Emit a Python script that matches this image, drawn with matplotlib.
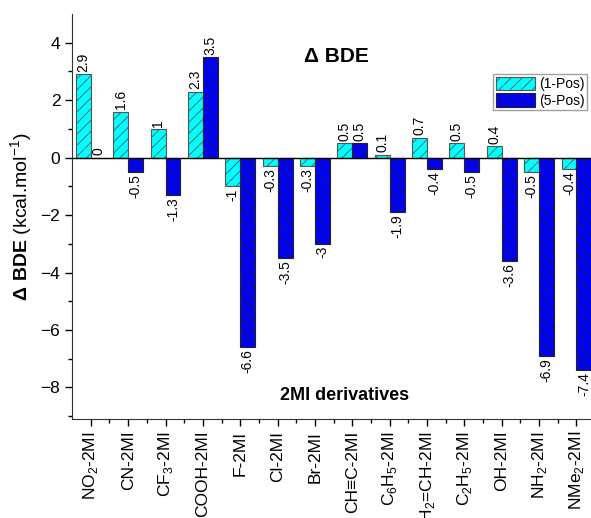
import matplotlib.pyplot as plt
import numpy as np

plt.rcParams['font.family'] = ['Liberation Sans', 'DejaVu Sans']
plt.rcParams['mathtext.fontset'] = 'custom'
plt.rcParams['mathtext.rm'] = 'Liberation Sans'
plt.rcParams['mathtext.bf'] = 'Liberation Sans:bold'
plt.rcParams['hatch.linewidth'] = 0.6

# データ
derivatives = ['NO$_2$-2MI', 'CN-2MI', 'CF$_3$-2MI', 'COOH-2MI', 'F-2MI', 'Cl-2MI',
               'Br-2MI', 'CH≡C-2MI', 'C$_6$H$_5$-2MI', 'CH$_2$=CH-2MI',
               'C$_2$H$_5$-2MI', 'OH-2MI', 'NH$_2$-2MI', 'NMe$_2$-2MI']
pos1 = [2.9, 1.6, 1, 2.3, -1, -0.3, -0.3, 0.5, 0.1, 0.7, 0.5, 0.4, -0.5, -0.4]
pos5 = [0, -0.5, -1.3, 3.5, -6.6, -3.5, -3, 0.5, -1.9, -0.4, -0.5, -3.6, -6.9, -7.4]

fig = plt.figure(figsize=(5.91, 5.18), dpi=100)
ax = fig.add_axes([0.122, 0.191, 0.885, 0.782])

x = np.arange(len(derivatives))
w = 0.4
b1 = ax.bar(x - w / 2, pos1, w, color='#00ffff', edgecolor='#555555',
            hatch='///', linewidth=0.8, label='(1-Pos)')
b5 = ax.bar(x + w / 2, pos5, w, color='#0000ff', edgecolor='#222222',
            hatch='\\\\\\', linewidth=0.8, label='(5-Pos)')

# 棒の値ラベル
for xs, vals in [(x - w / 2, pos1), (x + w / 2, pos5)]:
    for xi, v in zip(xs, vals):
        if v >= 0:
            ax.text(xi, v + 0.08, f'{v:g}', rotation=90, ha='center', va='bottom', fontsize=10)
        else:
            ax.text(xi, v - 0.08, f'{v:g}', rotation=90, ha='center', va='top', fontsize=10)

ax.axhline(0, color='black', linewidth=1)

ax.set_xlim(-0.5, 13.5)
ax.set_ylim(-9.1, 5)
ax.set_xticks(x)
ax.set_xticks(x + 0.5, minor=True)
ax.set_xticklabels(derivatives, rotation=90, fontsize=12.5)
ax.set_yticks([-8, -6, -4, -2, 0, 2, 4])
ax.set_yticks([-9, -7, -5, -3, -1, 1, 3], minor=True)
ax.tick_params(axis='y', labelsize=12.5)
ax.tick_params(which='major', length=5, width=1)
ax.tick_params(which='minor', length=3, width=1)

for s in ['top', 'right']:
    ax.spines[s].set_visible(False)
ax.spines['left'].set_color('#333333')
ax.spines['bottom'].set_color('#333333')

ax.set_ylabel(r'$\mathbf{\Delta\ BDE}$ (kcal.mol$^{-1}$)', fontsize=14, labelpad=4)

ax.text(0.505, 0.895, 'Δ BDE', transform=ax.transAxes, fontsize=15,
        fontweight='bold', ha='center', va='center')
ax.text(0.52, 0.058, '2MI derivatives', transform=ax.transAxes, fontsize=13,
        fontweight='bold', ha='center', va='center')

ax.legend(loc='upper right', bbox_to_anchor=(0.985, 0.852), fontsize=10,
          fancybox=False, edgecolor='#888888', handlelength=2.8, handleheight=1.1,
          borderpad=0.2, labelspacing=0.15, handletextpad=0.3, borderaxespad=0)

fig.savefig('out.png', dpi=100)
